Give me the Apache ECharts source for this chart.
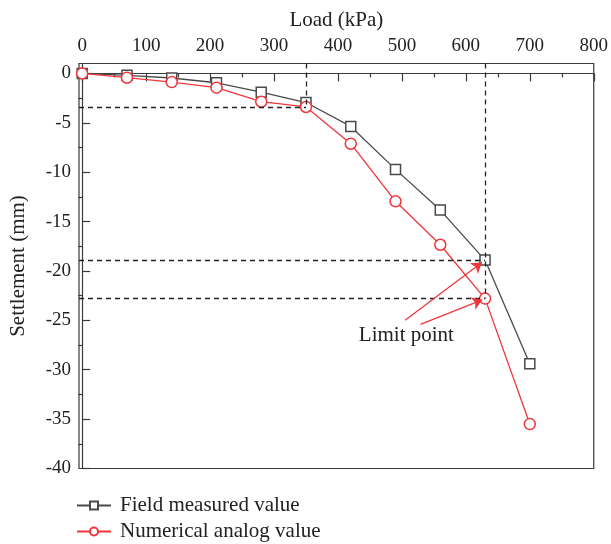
<!DOCTYPE html>
<html>
<head>
<meta charset="utf-8">
<script src="https://cdn.jsdelivr.net/npm/echarts@6/dist/echarts.min.js"></script>
<style>html,body{margin:0;padding:0;background:#fff;}#c{width:611px;height:544px;}</style>
</head>
<body>
<div id="c"></div>
<script>
const loads = [0, 70, 140, 210, 280, 350, 420, 490, 560, 630, 700];
const fieldMeasured = [0, -0.2, -0.47, -0.95, -1.9, -2.95, -5.37, -9.72, -13.84, -18.9, -29.4];
const numericalAnalog = [0, -0.44, -0.88, -1.45, -2.87, -3.4, -7.12, -12.95, -17.35, -22.8, -35.5];
const xTickLabels = [0, 100, 200, 300, 400, 500, 600, 700, 800];
const xMinorTicks = [50, 150, 250, 350, 450, 550, 650, 750];
const yTickLabels = [0, -5, -10, -15, -20, -25, -30, -35, -40];
const yMinorTicks = [-2.5, -7.5, -12.5, -17.5, -22.5, -27.5, -32.5, -37.5];
const seriesNames = ['Field measured value', 'Numerical analog value'];
const limitIndex = 9, initialIndex = 5;
const annotationText = 'Limit point';
const annotationAnchor = [507, -26.5];
const arrowStarts = [[505, -25.0], [529, -25.4]];
const arrowEndOffsets = [[-5, -0.25], [-4.5, -0.12]];

const FONT = 'Liberation Serif';
const AX = '#3a3a3a';
const RED = '#f0363a';
const GRAY = '#4a4a4a';

const xMin = -5, xMax = 800, yMin = -40, yMax = 1;

const chart = echarts.init(document.getElementById('c'), null, {renderer: 'canvas'});

const fieldData = loads.map((x, i) => [x, fieldMeasured[i]]);
const numData = loads.map((x, i) => [x, numericalAnalog[i]]);

const dash = {color: '#222', type: [5, 4], width: 1.3};
const guideLines = [
  [{coord: [loads[initialIndex], yMax]}, {coord: [loads[initialIndex], numericalAnalog[initialIndex]]}],
  [{coord: [xMin, numericalAnalog[initialIndex]]}, {coord: [loads[initialIndex], numericalAnalog[initialIndex]]}],
  [{coord: [loads[limitIndex], yMax]}, {coord: [loads[limitIndex], numericalAnalog[limitIndex]]}],
  [{coord: [xMin, fieldMeasured[limitIndex]]}, {coord: [loads[limitIndex], fieldMeasured[limitIndex]]}],
  [{coord: [xMin, numericalAnalog[limitIndex]]}, {coord: [loads[limitIndex], numericalAnalog[limitIndex]]}]
];
const limitTargets = [fieldMeasured[limitIndex], numericalAnalog[limitIndex]];
const arrows = arrowStarts.map((s, k) => [
  {coord: s, symbol: 'none'},
  {coord: [loads[limitIndex] + arrowEndOffsets[k][0], limitTargets[k] + arrowEndOffsets[k][1]], symbol: 'arrow', symbolSize: 10}
]);

const legendBase = {
  orient: 'vertical', left: 76, itemWidth: 34, itemHeight: 10, padding: 0,
  textStyle: {fontFamily: FONT, fontSize: 21, color: '#222', padding: [0, 0, 0, 4]}
};

const option = {
  animation: false,
  backgroundColor: '#fff',
  textStyle: {fontFamily: FONT},
  grid: {left: 77, right: 16, top: 63.5, bottom: 75.5, show: true, borderColor: AX, borderWidth: 1.2, containLabel: false},
  legend: [
    Object.assign({}, legendBase, {top: 495, data: [seriesNames[0]]}),
    Object.assign({}, legendBase, {top: 521, data: [seriesNames[1]]})
  ],
  xAxis: [{
    type: 'value', position: 'top', min: xMin, max: xMax,
    name: 'Load (kPa)', nameLocation: 'middle', nameGap: 33,
    nameTextStyle: {fontFamily: FONT, fontSize: 21, color: '#222'},
    axisLine: {show: true, lineStyle: {color: AX, width: 1.2}},
    axisTick: {show: true, inside: true, length: 8, lineStyle: {color: AX, width: 1.2}, customValues: xTickLabels},
    axisLabel: {show: true, fontFamily: FONT, fontSize: 19, color: '#222', margin: 8, customValues: xTickLabels},
    splitLine: {show: false}
  }, {
    type: 'value', position: 'top', min: xMin, max: xMax,
    axisLine: {show: false},
    axisTick: {show: true, inside: true, length: 4, lineStyle: {color: AX, width: 1.2}, customValues: xMinorTicks},
    axisLabel: {show: false},
    splitLine: {show: false}
  }],
  yAxis: [{
    type: 'value', min: yMin, max: yMax,
    name: 'Settlement (mm)', nameLocation: 'middle', nameGap: 50,
    nameTextStyle: {fontFamily: FONT, fontSize: 21, color: '#222'},
    axisLine: {show: true, lineStyle: {color: AX, width: 1.2}},
    axisTick: {show: true, inside: true, length: 8, lineStyle: {color: AX, width: 1.2}, customValues: yTickLabels},
    axisLabel: {show: true, fontFamily: FONT, fontSize: 19, color: '#222', margin: 8, customValues: yTickLabels},
    splitLine: {show: false}
  }, {
    type: 'value', min: yMin, max: yMax,
    axisLine: {show: false},
    axisTick: {show: true, inside: true, length: 4, lineStyle: {color: AX, width: 1.2}, customValues: yMinorTicks},
    axisLabel: {show: false},
    splitLine: {show: false}
  }],
  series: [{
    name: seriesNames[0], type: 'line', data: fieldData,
    xAxisIndex: 0, yAxisIndex: 0,
    symbol: 'rect', symbolSize: 10,
    lineStyle: {color: GRAY, width: 1.3},
    itemStyle: {color: '#fff', borderColor: GRAY, borderWidth: 1.5},
    z: 3,
    markLine: {
      silent: true, symbol: ['none', 'none'], label: {show: false},
      lineStyle: dash, data: guideLines
    }
  }, {
    name: seriesNames[1], type: 'line', data: numData,
    xAxisIndex: 0, yAxisIndex: 0,
    symbol: 'circle', symbolSize: 11,
    lineStyle: {color: RED, width: 1.3},
    itemStyle: {color: '#fff', borderColor: RED, borderWidth: 1.5},
    z: 4,
    markLine: {
      silent: true, symbol: ['none', 'arrow'], symbolSize: 10, label: {show: false},
      lineStyle: {color: RED, type: 'solid', width: 1.3}, itemStyle: {color: RED}, data: arrows
    },
    markPoint: {
      silent: true,
      data: [{coord: annotationAnchor, symbol: 'circle', symbolSize: 1, itemStyle: {color: 'rgba(0,0,0,0)'},
        label: {show: true, position: 'inside', formatter: annotationText, fontFamily: FONT, fontSize: 21, color: '#222'}}]
    }
  }]
};
chart.setOption(option);
</script>
</body>
</html>
